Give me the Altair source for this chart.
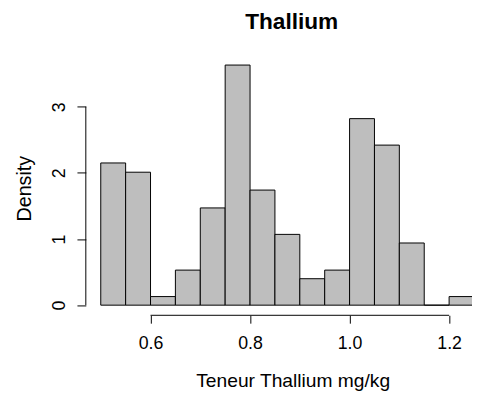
import altair as alt
import pandas as pd

# Histogram breaks and densities
bin_lo = [0.50, 0.55, 0.60, 0.65, 0.70, 0.75, 0.80, 0.85, 0.90, 0.95, 1.00, 1.05, 1.10, 1.15, 1.20]
bin_hi = [0.55, 0.60, 0.65, 0.70, 0.75, 0.80, 0.85, 0.90, 0.95, 1.00, 1.05, 1.10, 1.15, 1.20, 1.25]
density = [2.15, 2.01, 0.13, 0.53, 1.47, 3.63, 1.74, 1.07, 0.40, 0.53, 2.82, 2.42, 0.94, 0.0, 0.13]

x_ticks = [0.6, 0.8, 1.0, 1.2]
y_ticks = [0, 1, 2, 3]
main_title = ["Thallium"]

FONT = "Liberation Sans"
W, H = 392, 264

bars_df = pd.DataFrame({"lo": bin_lo, "hi": bin_hi, "density": density})
xline_df = pd.DataFrame({"a": [x_ticks[0]], "b": [x_ticks[-1]]})
yline_df = pd.DataFrame({"a": [y_ticks[0]], "b": [y_ticks[-1]]})
title_df = pd.DataFrame({"t": main_title})

xscale = alt.Scale(domain=[0.47, 1.246], nice=False, zero=False)
yscale = alt.Scale(domain=[-0.153, 3.779], nice=False, zero=False)

xaxis = alt.Axis(
    values=x_ticks, format=".1f", domain=False, grid=False,
    tickSize=8, tickColor="black", tickWidth=1,
    labelFont=FONT, labelFontSize=18, labelColor="black", labelPadding=25.5,
    labelBaseline="alphabetic", labelAlign="center",
    labelFlush=False, labelOverlap=False,
    title="Teneur Thallium mg/kg", titleFont=FONT, titleFontSize=19.5,
    titleFontWeight="normal", titleColor="black",
    titleX=210, titleY=72.5, titleAlign="center", titleBaseline="alphabetic",
)
yaxis = alt.Axis(
    values=y_ticks, format="d", domain=False, grid=False,
    tickSize=9, tickColor="black", tickWidth=1,
    labelFont=FONT, labelFontSize=18, labelColor="black", labelPadding=13,
    labelAngle=270, labelAlign="center", labelBaseline="alphabetic",
    labelOverlap=False, labelFlush=False,
    title="Density", titleFont=FONT, titleFontSize=20,
    titleFontWeight="normal", titleColor="black",
    titleAngle=270, titleX=-56, titleY=135, titleAlign="center", titleBaseline="alphabetic",
)

bars = alt.Chart(bars_df).mark_bar(
    clip=True, fill="#BEBEBE", stroke="black", strokeWidth=1
).encode(
    x=alt.X("lo:Q", scale=xscale, axis=xaxis),
    x2="hi:Q",
    y=alt.Y("density:Q", scale=yscale, axis=yaxis),
    y2=alt.datum(0),
)

xline = alt.Chart(xline_df).mark_rule(color="black", strokeWidth=1).encode(
    x=alt.X("a:Q", scale=xscale, axis=xaxis),
    x2="b:Q",
    y=alt.value(H),
)

yline = alt.Chart(yline_df).mark_rule(color="black", strokeWidth=1).encode(
    y=alt.Y("a:Q", scale=yscale, axis=yaxis),
    y2="b:Q",
    x=alt.value(0),
)

title = alt.Chart(title_df).mark_text(
    font=FONT, fontSize=23, fontWeight="bold", color="black",
    align="center", baseline="alphabetic",
).encode(
    text="t:N",
    x=alt.value(209),
    y=alt.value(-26.3),
)

chart = alt.layer(bars, xline, yline, title).properties(
    width=W, height=H,
    autosize="none",
    padding={"left": 79, "top": 45, "right": 0, "bottom": 78},
).configure_view(stroke=None)

chart.save("out.html", embed_options={"renderer": "svg", "actions": False})
